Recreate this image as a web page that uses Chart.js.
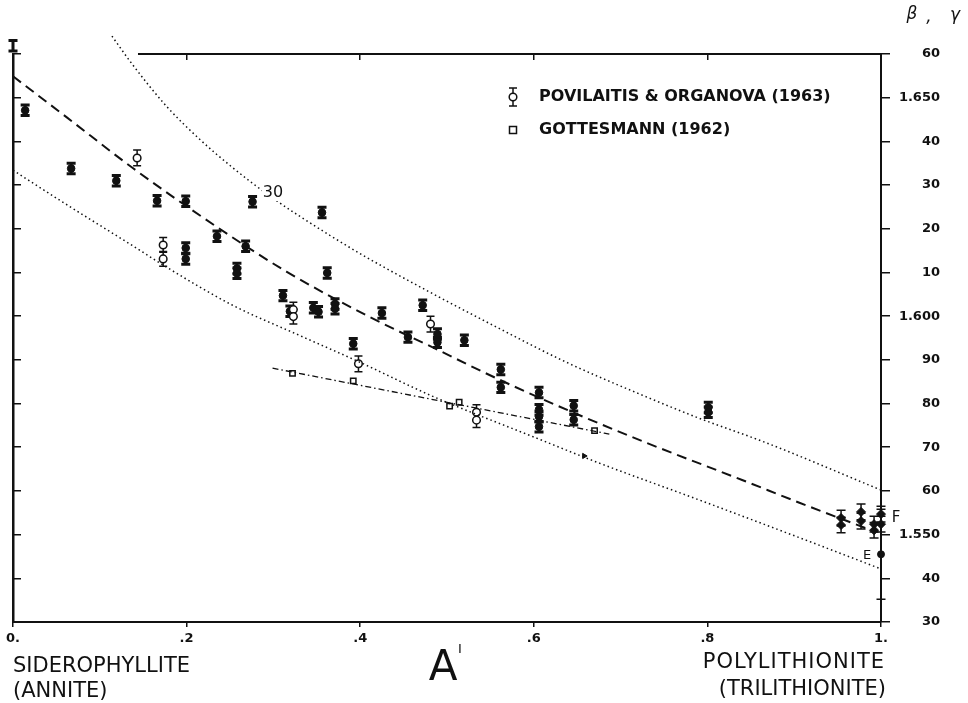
<!DOCTYPE html>
<html>
<head>
<meta charset="utf-8">
<script src="https://cdn.jsdelivr.net/npm/chart.js@4.4.1/dist/chart.umd.min.js"></script>
<style>
  html, body { margin: 0; padding: 0; background: #fff; }
  #chart { display: block; }
</style>
</head>
<body>
<canvas id="chart" width="968" height="703"></canvas>
<script>
const INK = '#111';

// axis ticks
const xTickValues = [0, 0.2, 0.4, 0.6, 0.8, 1.0];
const xTickLabels = ['0.', '.2', '.4', '.6', '.8', '1.'];
const yTickValues = [1.53, 1.54, 1.55, 1.56, 1.57, 1.58, 1.59, 1.60, 1.61, 1.62, 1.63, 1.64, 1.65, 1.66];
const yTickLabels = ['30', '40', '1.550', '60', '70', '80', '90', '1.600', '10', '20', '30', '40', '1.650', '60'];

// filled symbols (with error bar half length)
const filledX = [0.0, 0.014, 0.067, 0.119, 0.166, 0.199, 0.276, 0.356, 0.235, 0.268, 0.199, 0.199, 0.258, 0.258, 0.362, 0.311, 0.319, 0.346, 0.352, 0.371, 0.371, 0.425, 0.472, 0.455, 0.489, 0.489, 0.520, 0.392, 0.562, 0.562, 0.606, 0.606, 0.606, 0.606, 0.646, 0.646, 0.801, 0.801];
const filledY = [1.6619, 1.6471, 1.6338, 1.6310, 1.6264, 1.6263, 1.6262, 1.6237, 1.6183, 1.6160, 1.6156, 1.6131, 1.6109, 1.6098, 1.6099, 1.6047, 1.6011, 1.6019, 1.6010, 1.6028, 1.6017, 1.6007, 1.6025, 1.5952, 1.5959, 1.5940, 1.5945, 1.5937, 1.5878, 1.5837, 1.5825, 1.5786, 1.5770, 1.5747, 1.5795, 1.5763, 1.5791, 1.5780];
const filledErr = [0.0012, 0.0012, 0.0012, 0.0012, 0.0012, 0.0012, 0.0012, 0.0012, 0.0012, 0.0012, 0.0012, 0.0012, 0.0012, 0.0012, 0.0012, 0.0012, 0.0012, 0.0012, 0.0012, 0.0012, 0.0012, 0.0012, 0.0012, 0.0012, 0.0012, 0.0012, 0.0012, 0.0012, 0.0012, 0.0012, 0.0012, 0.0012, 0.0012, 0.0012, 0.0012, 0.0012, 0.0012, 0.0012];

// lithium end members (F) and E
const lithX = [0.954, 0.954, 0.977, 0.977, 0.992, 0.992, 1.0, 1.0];
const lithY = [1.5538, 1.5522, 1.5552, 1.5531, 1.5524, 1.5510, 1.5547, 1.5524];
const lithErr = [0.0018, 0.0018, 0.0018, 0.0018, 0.0018, 0.0018, 0.0018, 0.0018];
const eX = [1.0];
const eY = [1.5455];
const eErr = [0.0103];

// small arrow mark
const arrowX = [0.658];
const arrowY = [1.5680];

// Povilaitis & Organova (1963)
const poviX = [0.143, 0.173, 0.173, 0.323, 0.323, 0.398, 0.481, 0.534, 0.534];
const poviY = [1.6362, 1.6163, 1.6131, 1.6015, 1.5999, 1.5891, 1.5982, 1.5780, 1.5762];
const poviErr = [0.0018, 0.0017, 0.0017, 0.0017, 0.0017, 0.0018, 0.0018, 0.0017, 0.0017];

// Gottesmann (1962)
const gottX = [0.322, 0.392, 0.503, 0.514, 0.670];
const gottY = [1.5869, 1.5852, 1.5794, 1.5803, 1.5738];
const gottLineX = [0.299, 0.687];
const gottLineY = [1.5881, 1.5730];

// dashed mean curve
const meanX = [0.0, 0.062, 0.138, 0.238, 0.315, 0.411, 0.483, 0.560, 0.646, 0.730, 0.840, 0.906, 0.986];
const meanY = [1.6549, 1.6455, 1.6339, 1.6200, 1.6102, 1.5998, 1.5929, 1.5855, 1.5779, 1.5710, 1.5625, 1.5573, 1.5512];

// dotted upper curve ("30")
const upperX = [0.114, 0.138, 0.177, 0.215, 0.253, 0.298, 0.365, 0.407, 0.483, 0.560, 0.637, 0.730, 0.791, 0.868, 1.0];
const upperY = [1.6641, 1.6575, 1.6480, 1.6405, 1.6340, 1.6272, 1.6185, 1.6135, 1.6052, 1.5972, 1.5895, 1.5815, 1.5766, 1.5710, 1.5602];

// dotted lower curve
const lowerX = [0.0, 0.062, 0.138, 0.177, 0.253, 0.330, 0.398, 0.483, 0.598, 0.675, 0.791, 0.906, 0.998];
const lowerY = [1.6334, 1.6255, 1.6161, 1.6112, 1.6025, 1.5956, 1.5896, 1.5817, 1.5725, 1.5664, 1.5579, 1.5493, 1.5423];

// top frame line (left part is missing in the original)
const topFrameX = [0.144, 1.0];
const topFrameY = [1.66, 1.66];

const pts = (xs, ys) => xs.map((x, i) => ({ x: x, y: ys[i] }));

// error bars drawn under the symbols
const errorBars = {
    id: 'errorBars',
    beforeDatasetsDraw(chart) {
        const c = chart.ctx;
        const xs = chart.scales.x;
        const ys = chart.scales.y;
        chart.data.datasets.forEach(ds => {
            if (!ds.errors) return;
            c.save();
            c.strokeStyle = INK;
            c.lineWidth = ds.errWidth;
            ds.data.forEach((p, i) => {
                const px = xs.getPixelForValue(p.x);
                const top = ys.getPixelForValue(p.y + ds.errors[i]);
                const bot = ys.getPixelForValue(p.y - ds.errors[i]);
                c.beginPath();
                c.moveTo(px, top);
                c.lineTo(px, bot);
                c.moveTo(px - ds.capHalf, top);
                c.lineTo(px + ds.capHalf, top);
                c.moveTo(px - ds.capHalf, bot);
                c.lineTo(px + ds.capHalf, bot);
                c.stroke();
            });
            c.restore();
        });
    }
};

// texts and legend
const annotations = {
    id: 'annotations',
    afterDraw(chart) {
        const c = chart.ctx;
        c.save();
        c.fillStyle = INK;
        c.strokeStyle = INK;
        c.textBaseline = 'middle';

        c.font = 'italic 17px "DejaVu Sans"';
        c.textAlign = 'center';
        c.fillText('β', 912, 15);
        c.fillText(',', 929, 18);
        c.fillText('γ', 955, 16);

        // legend
        c.lineWidth = 1.5;
        c.beginPath();
        c.moveTo(513, 88); c.lineTo(513, 106);
        c.moveTo(509, 88); c.lineTo(517, 88);
        c.moveTo(509, 106); c.lineTo(517, 106);
        c.stroke();
        c.fillStyle = '#fff';
        c.beginPath();
        c.arc(513, 97, 3.8, 0, Math.PI * 2);
        c.fill();
        c.stroke();
        c.fillRect(509.5, 126.5, 7, 7);
        c.strokeRect(509.5, 126.5, 7, 7);
        c.fillStyle = INK;
        c.font = 'bold 16px "DejaVu Sans"';
        c.textAlign = 'left';
        c.fillText('POVILAITIS & ORGANOVA (1963)', 539, 97);
        c.fillText('GOTTESMANN (1962)', 539, 130);

        // curve label sits on a small gap of the dotted line
        c.fillStyle = '#fff';
        c.fillRect(262, 185, 22, 16);
        c.fillStyle = INK;
        c.font = '16px "DejaVu Sans"';
        c.textAlign = 'center';
        c.fillText('30', 273, 193);

        c.font = '15px "DejaVu Sans"';
        c.fillText('F', 896, 518);
        c.font = '13px "DejaVu Sans"';
        c.fillText('E', 867, 556);

        // end member names
        c.font = '21px "DejaVu Sans"';
        c.textAlign = 'left';
        c.fillText('SIDEROPHYLLITE', 13, 667);
        c.fillText('(ANNITE)', 13, 692);
        c.textAlign = 'right';
        c.letterSpacing = '1px';
        c.fillText('POLYLITHIONITE', 885, 663);
        c.letterSpacing = '0px';
        c.fillText('(TRILITHIONITE)', 886, 690);

        c.textAlign = 'center';
        c.font = '42px "DejaVu Sans"';
        c.fillText('A', 443, 669);
        c.font = '13px "DejaVu Sans"';
        c.fillText('I', 460, 650);
        c.restore();
    }
};

const lineSet = (xs, ys, dash, width) => ({
    type: 'line',
    data: pts(xs, ys),
    showLine: true,
    borderColor: INK,
    borderWidth: width,
    borderDash: dash,
    pointRadius: 0,
    tension: 0.4,
    cubicInterpolationMode: 'monotone',
    fill: false,
    clip: false
});

const ctx = document.getElementById('chart').getContext('2d');

const chart = new Chart(ctx, {
    type: 'scatter',
    data: {
        datasets: [
            lineSet(topFrameX, topFrameY, [], 2),
            lineSet(upperX, upperY, [1.5, 3], 1.5),
            lineSet(lowerX, lowerY, [1.5, 3], 1.5),
            lineSet(meanX, meanY, [10, 6], 2),
            lineSet(gottLineX, gottLineY, [6, 3, 1.5, 3], 1.3),
            {
                label: 'Gottesmann (1962)',
                data: pts(gottX, gottY),
                pointStyle: 'rect',
                pointRadius: 3.8,
                pointBackgroundColor: '#fff',
                pointBorderColor: INK,
                pointBorderWidth: 1.5,
                clip: false
            },
            {
                label: 'Povilaitis & Organova (1963)',
                data: pts(poviX, poviY),
                errors: poviErr,
                errWidth: 1.5,
                capHalf: 4,
                pointStyle: 'circle',
                pointRadius: 3.8,
                pointBackgroundColor: '#fff',
                pointBorderColor: INK,
                pointBorderWidth: 1.5,
                clip: false
            },
            {
                label: 'this study',
                data: pts(filledX, filledY),
                errors: filledErr,
                errWidth: 3,
                capHalf: 4.5,
                pointStyle: 'circle',
                pointRadius: 3.8,
                pointBackgroundColor: INK,
                pointBorderColor: INK,
                pointBorderWidth: 1,
                clip: false
            },
            {
                label: 'F',
                data: pts(lithX, lithY),
                errors: lithErr,
                errWidth: 1.5,
                capHalf: 4.5,
                pointStyle: 'rectRot',
                pointRadius: 4.5,
                pointBackgroundColor: INK,
                pointBorderColor: INK,
                pointBorderWidth: 1,
                clip: false
            },
            {
                label: 'E',
                data: pts(eX, eY),
                errors: eErr,
                errWidth: 1.5,
                capHalf: 4.5,
                pointStyle: 'circle',
                pointRadius: 3.5,
                pointBackgroundColor: INK,
                pointBorderColor: INK,
                clip: false
            },
            {
                label: 'mark',
                data: pts(arrowX, arrowY),
                pointStyle: 'triangle',
                rotation: 90,
                pointRadius: 3,
                pointBackgroundColor: INK,
                pointBorderColor: INK,
                clip: false
            }
        ]
    },
    options: {
        responsive: false,
        animation: false,
        layout: { padding: { left: 13, top: 54, right: 28, bottom: 0 } },
        plugins: {
            legend: { display: false },
            tooltip: { enabled: false }
        },
        scales: {
            x: {
                type: 'linear',
                position: 'bottom',
                min: 0,
                max: 1,
                afterBuildTicks: s => { s.ticks = xTickValues.map(v => ({ value: v })); },
                afterFit: s => { s.height = 81; },
                ticks: {
                    autoSkip: false,
                    maxRotation: 0,
                    padding: 4,
                    color: INK,
                    font: { family: 'DejaVu Sans', size: 13, weight: 'bold' },
                    callback: (v, i) => xTickLabels[i]
                },
                grid: { drawOnChartArea: false, tickLength: 5, color: INK, lineWidth: 1.5 },
                border: { display: true, color: INK, width: 2 }
            },
            xTop: {
                type: 'linear',
                position: 'top',
                min: 0,
                max: 1,
                afterBuildTicks: s => { s.ticks = xTickValues.slice(1, 5).map(v => ({ value: v })); },
                afterFit: s => { s.height = 0; },
                ticks: { display: false },
                grid: { drawOnChartArea: false, tickLength: -6, color: INK, lineWidth: 1.5 },
                border: { display: false }
            },
            y: {
                type: 'linear',
                position: 'right',
                min: 1.53,
                max: 1.66,
                afterBuildTicks: s => { s.ticks = yTickValues.map(v => ({ value: v })); },
                afterFit: s => { s.width = 59; },
                ticks: {
                    autoSkip: false,
                    crossAlign: 'far',
                    color: INK,
                    font: { family: 'DejaVu Sans', size: 13, weight: 'bold' },
                    callback: (v, i) => yTickLabels[i]
                },
                grid: { drawOnChartArea: false, tickLength: 9, color: INK, lineWidth: 1.5 },
                border: { display: true, color: INK, width: 2 }
            },
            yLeft: {
                type: 'linear',
                position: 'left',
                min: 1.53,
                max: 1.66,
                afterBuildTicks: s => { s.ticks = yTickValues.map(v => ({ value: v })); },
                afterFit: s => { s.width = 0; },
                ticks: { display: false },
                grid: { drawOnChartArea: false, tickLength: -8, color: INK, lineWidth: 1.5 },
                border: { display: true, color: INK, width: 2.5 }
            }
        }
    },
    plugins: [errorBars, annotations]
});
</script>
</body>
</html>
